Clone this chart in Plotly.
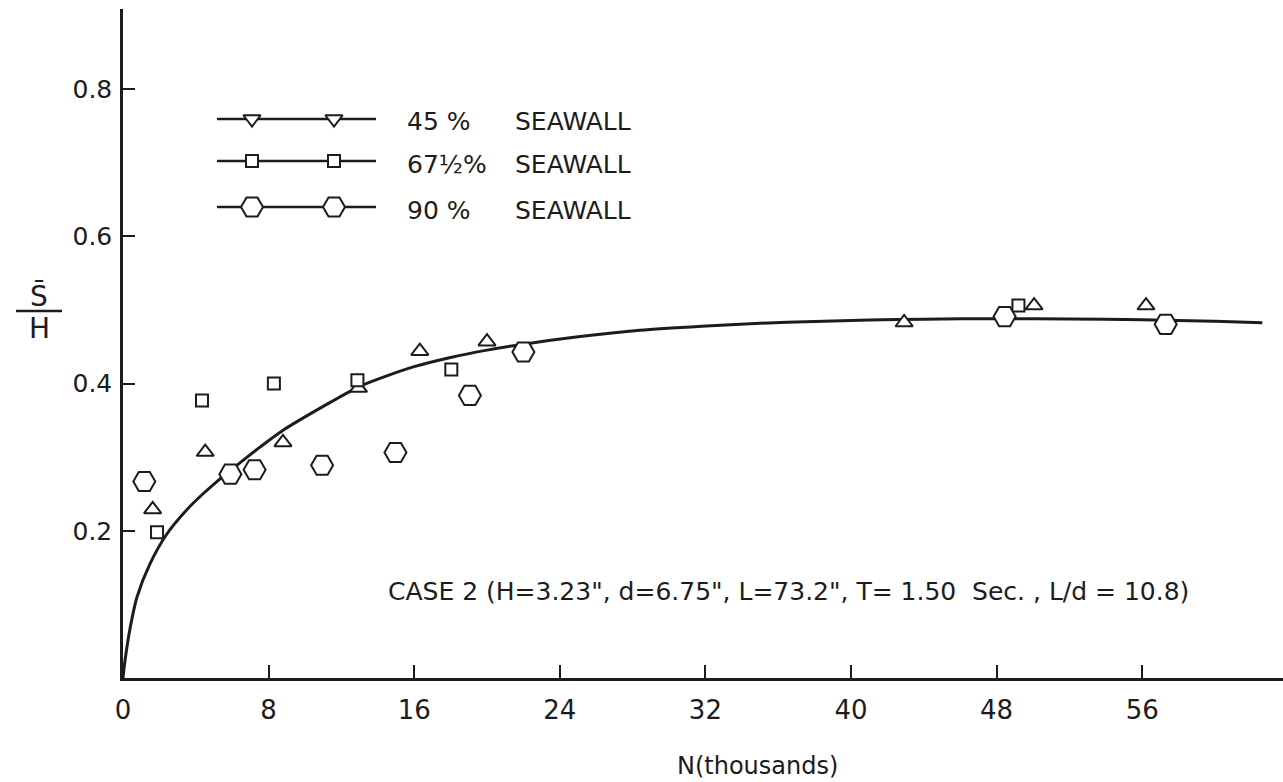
import plotly.graph_objects as go

# ---------------- data ----------------
N_45 = [1.63, 4.52, 8.79, 12.94, 16.31, 20.0, 42.92, 50.06, 56.21]
S_45 = [0.229, 0.307, 0.320, 0.394, 0.444, 0.457, 0.483, 0.506, 0.506]

N_675 = [1.87, 4.34, 8.29, 12.88, 18.04, 49.2]
S_675 = [0.198, 0.377, 0.400, 0.4045, 0.419, 0.506]

N_90 = [1.17, 5.90, 7.23, 10.94, 14.97, 19.06, 22.0, 48.44, 57.29]
S_90 = [0.267, 0.277, 0.283, 0.289, 0.3065, 0.384, 0.443, 0.491, 0.4805]

curve_N = [0, 0.06, 0.18, 0.37, 0.77, 1.50, 2.42, 3.52, 4.43, 5.35, 6.26, 7.54,
           8.82, 11.0, 12.9, 14.5, 16.0, 18.0, 20.0, 22.0, 25.0, 28.4, 31.8,
           35.0, 38.0, 41.0, 44.0, 48.0, 52.0, 56.0, 60.0, 62.6]
curve_S = [0, 0.014, 0.036, 0.065, 0.110, 0.156, 0.196, 0.229, 0.251, 0.271,
           0.289, 0.314, 0.337, 0.369, 0.395, 0.4105, 0.423, 0.4355, 0.4455,
           0.4535, 0.4635, 0.4725, 0.478, 0.482, 0.4845, 0.4863, 0.4875, 0.4882,
           0.4879, 0.4866, 0.4846, 0.4828]

x_ticks = [0, 8, 16, 24, 32, 40, 48, 56]
x_tick_text = ["0", "8", "16", "24", "32", "40", "48", "56"]
y_ticks = [0.2, 0.4, 0.6, 0.8]
y_tick_text = ["0.2", "0.4", "0.6", "0.8"]

legend_pct = ["45 %", "67½%", "90 %"]
legend_word = "SEAWALL"
case_text = 'CASE 2 (H=3.23", d=6.75", L=73.2", T= 1.50&nbsp;&nbsp;Sec. , L/d = 10.8)'

# ---------------- layout geometry ----------------
W, H = 1283, 782
L, R, T, B = 123, 0, 9, 104
PW, PH = W - L - R, H - T - B
FONT = "DejaVu Sans"
INK = "#1c1c1c"


def px(xp):
    return (xp - L) / PW


def py(yp):
    return (H - B - yp) / PH


fig = go.Figure()

fig.add_trace(go.Scatter(x=curve_N, y=curve_S, mode="lines",
                         line=dict(color=INK, width=3, shape="spline", smoothing=0.8),
                         hoverinfo="skip", showlegend=False))

series = [
    (N_45, S_45, "triangle-up", 15),
    (N_675, S_675, "square", 12),
    (N_90, S_90, "hexagon2", 22),
]
for xs, ys, sym, size in series:
    fig.add_trace(go.Scatter(x=xs, y=ys, mode="markers",
                             marker=dict(symbol=sym, size=size, color="white",
                                         line=dict(color=INK, width=2)),
                             cliponaxis=False, showlegend=False))

# ---------------- hand-drawn style legend (pixel overlay axes) ----------------
leg_syms = [("triangle-down", 15), ("square", 12), ("hexagon2", 22)]
leg_y = [119, 161, 207]
for (sym, size), yy in zip(leg_syms, leg_y):
    fig.add_trace(go.Scatter(x=[217, 376], y=[yy, yy], mode="lines",
                             line=dict(color=INK, width=2.5),
                             xaxis="x2", yaxis="y2", showlegend=False, hoverinfo="skip"))
    fig.add_trace(go.Scatter(x=[252, 334], y=[yy, yy], mode="markers",
                             marker=dict(symbol=sym, size=size, color="white",
                                         line=dict(color=INK, width=2)),
                             xaxis="x2", yaxis="y2", showlegend=False, hoverinfo="skip"))

annotations = []
for yy, pct in zip(leg_y, legend_pct):
    annotations.append(dict(x=px(405), y=py(yy + 3), xref="paper", yref="paper",
                            text=pct, showarrow=False, xanchor="left", yanchor="middle",
                            font=dict(family=FONT, size=25, color=INK)))
    annotations.append(dict(x=px(513), y=py(yy + 3), xref="paper", yref="paper",
                            text=legend_word, showarrow=False, xanchor="left", yanchor="middle",
                            font=dict(family=FONT, size=25, color=INK)))

annotations.append(dict(x=px(386), y=py(591), xref="paper", yref="paper",
                        text=case_text, showarrow=False, xanchor="left", yanchor="middle",
                        font=dict(family=FONT, size=25, color=INK)))

annotations.append(dict(x=px(757), y=py(766), xref="paper", yref="paper",
                        text="N(thousands)", showarrow=False, xanchor="center", yanchor="middle",
                        font=dict(family=FONT, size=24, color=INK)))

annotations.append(dict(x=px(39), y=py(296), xref="paper", yref="paper",
                        text="S\u0304", showarrow=False, xanchor="center", yanchor="middle",
                        font=dict(family=FONT, size=28, color=INK)))
annotations.append(dict(x=px(39), y=py(328), xref="paper", yref="paper",
                        text="H", showarrow=False, xanchor="center", yanchor="middle",
                        font=dict(family=FONT, size=28, color=INK)))

shapes = [dict(type="line", xref="paper", yref="paper",
               x0=px(16), x1=px(62), y0=py(311), y1=py(311),
               line=dict(color=INK, width=2.5))]

fig.update_layout(
    width=W, height=H,
    margin=dict(l=L, r=R, t=T, b=B, pad=0),
    paper_bgcolor="white", plot_bgcolor="white",
    showlegend=False,
    annotations=annotations,
    shapes=shapes,
    xaxis=dict(range=[0, PW / 18.2], tickvals=x_ticks, ticktext=x_tick_text,
               showgrid=False, zeroline=False, showline=True, linecolor=INK, linewidth=2.5,
               ticks="inside", ticklen=13, tickwidth=2, tickcolor=INK,
               tickfont=dict(family=FONT, size=26, color=INK),
               ticklabelstandoff=7, automargin=False),
    yaxis=dict(range=[0, PH / 736.0], tickvals=y_ticks, ticktext=y_tick_text,
               showgrid=False, zeroline=False, showline=True, linecolor=INK, linewidth=2.5,
               ticks="inside", ticklen=12, tickwidth=2, tickcolor=INK,
               tickfont=dict(family=FONT, size=25, color=INK),
               ticklabelstandoff=3, automargin=False),
    xaxis2=dict(overlaying="x", range=[L, W - R], visible=False, fixedrange=True),
    yaxis2=dict(overlaying="y", range=[H - B, T], visible=False, fixedrange=True),
)

fig.write_html("out.html")
